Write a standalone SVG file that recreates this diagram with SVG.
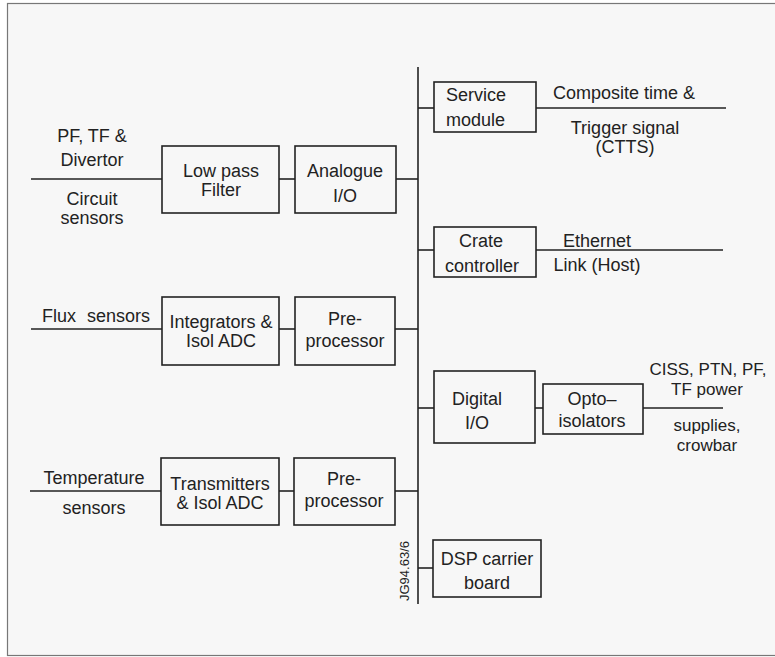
<svg xmlns="http://www.w3.org/2000/svg" width="775" height="657" viewBox="0 0 775 657">
<style>
.box{fill:none;stroke:#222;stroke-width:1.6}
.ln{stroke:#222;stroke-width:1.6;fill:none}
text{font-family:"Liberation Sans",Arial,sans-serif;font-size:18px;fill:#222}
.c{text-anchor:middle}
.s{font-size:13px}
.m{font-size:17px}
</style>
<rect x="0" y="0" width="775" height="657" fill="#ffffff"/>
<rect x="7.5" y="3.5" width="770" height="652" fill="#f7f7f7" stroke="#777" stroke-width="1.2"/>
<g id="connectors">
<line class="ln" x1="418" y1="67" x2="418" y2="604"/>
<line class="ln" x1="31" y1="179" x2="162" y2="179"/>
<line class="ln" x1="279" y1="179" x2="295" y2="179"/>
<line class="ln" x1="396" y1="179" x2="418" y2="179"/>
<line class="ln" x1="31" y1="329" x2="162" y2="329"/>
<line class="ln" x1="279" y1="329" x2="295" y2="329"/>
<line class="ln" x1="395" y1="329" x2="418" y2="329"/>
<line class="ln" x1="30" y1="491" x2="161" y2="491"/>
<line class="ln" x1="279" y1="491" x2="294" y2="491"/>
<line class="ln" x1="395" y1="491" x2="418" y2="491"/>
<line class="ln" x1="418" y1="108" x2="434" y2="108"/>
<line class="ln" x1="536" y1="108" x2="726" y2="108"/>
<line class="ln" x1="418" y1="250" x2="434" y2="250"/>
<line class="ln" x1="536" y1="250" x2="723" y2="250"/>
<line class="ln" x1="418" y1="408" x2="434" y2="408"/>
<line class="ln" x1="535" y1="408" x2="543" y2="408"/>
<line class="ln" x1="643" y1="408" x2="723" y2="408"/>
<line class="ln" x1="418" y1="568" x2="433" y2="568"/>
</g>
<g id="pf-label">
<text class="c" x="92" y="142">PF, TF &amp;</text>
<text class="c" x="92" y="166">Divertor</text>
<text class="c" x="92" y="205">Circuit</text>
<text class="c" x="92" y="224">sensors</text>
</g>
<g id="low-pass-filter">
<rect class="box" x="162" y="146" width="117" height="67"/>
<text class="c" x="221" y="177">Low pass</text>
<text class="c" x="221" y="196">Filter</text>
</g>
<g id="analogue-io">
<rect class="box" x="295" y="146" width="101" height="67"/>
<text class="c" x="345" y="177">Analogue</text>
<text class="c" x="345" y="202">I/O</text>
</g>
<g id="flux-label">
<text x="42" y="322" word-spacing="6">Flux sensors</text>
</g>
<g id="integrators">
<rect class="box" x="162" y="297" width="117" height="68"/>
<text class="c" x="221" y="328">Integrators &amp;</text>
<text class="c" x="221" y="347">Isol ADC</text>
</g>
<g id="preprocessor-1">
<rect class="box" x="295" y="297" width="100" height="68"/>
<text class="c" x="345" y="325">Pre-</text>
<text class="c" x="345" y="347">processor</text>
</g>
<g id="temp-label">
<text class="c" x="94" y="484">Temperature</text>
<text class="c" x="94" y="514">sensors</text>
</g>
<g id="transmitters">
<rect class="box" x="161" y="458" width="118" height="67"/>
<text class="c" x="220" y="490">Transmitters</text>
<text class="c" x="220" y="509">&amp; Isol ADC</text>
</g>
<g id="preprocessor-2">
<rect class="box" x="294" y="458" width="101" height="67"/>
<text class="c" x="344" y="485">Pre-</text>
<text class="c" x="344" y="507">processor</text>
</g>
<g id="service-module">
<rect class="box" x="434" y="82" width="102" height="50"/>
<text x="446" y="101">Service</text>
<text x="446" y="126">module</text>
</g>
<g id="ctts-label">
<text class="c" x="624" y="99">Composite time &amp;</text>
<text class="c" x="625" y="134">Trigger signal</text>
<text class="c" x="625" y="153">(CTTS)</text>
</g>
<g id="crate-controller">
<rect class="box" x="434" y="227" width="102" height="50"/>
<text class="c" x="481" y="247">Crate</text>
<text class="c" x="482" y="272">controller</text>
</g>
<g id="ethernet-label">
<text class="c" x="597" y="247">Ethernet</text>
<text class="c" x="597" y="271">Link (Host)</text>
</g>
<g id="digital-io">
<rect class="box" x="434" y="371" width="101" height="72"/>
<text class="c" x="477" y="405">Digital</text>
<text class="c" x="477" y="429">I/O</text>
</g>
<g id="opto-isolators">
<rect class="box" x="543" y="384" width="100" height="50"/>
<text class="c" x="592" y="405">Opto–</text>
<text class="c" x="592" y="427">isolators</text>
</g>
<g id="ciss-label">
<text class="c m" x="708" y="375">CISS, PTN, PF,</text>
<text class="c m" x="707" y="395">TF power</text>
<text class="c m" x="707" y="431">supplies,</text>
<text class="c m" x="707" y="451">crowbar</text>
</g>
<g id="dsp-carrier">
<rect class="box" x="433" y="540" width="108" height="57"/>
<text class="c" x="487" y="565">DSP carrier</text>
<text class="c" x="487" y="589">board</text>
</g>
<text class="s c" transform="translate(409,571) rotate(-90)">JG94.63/6</text>
</svg>
